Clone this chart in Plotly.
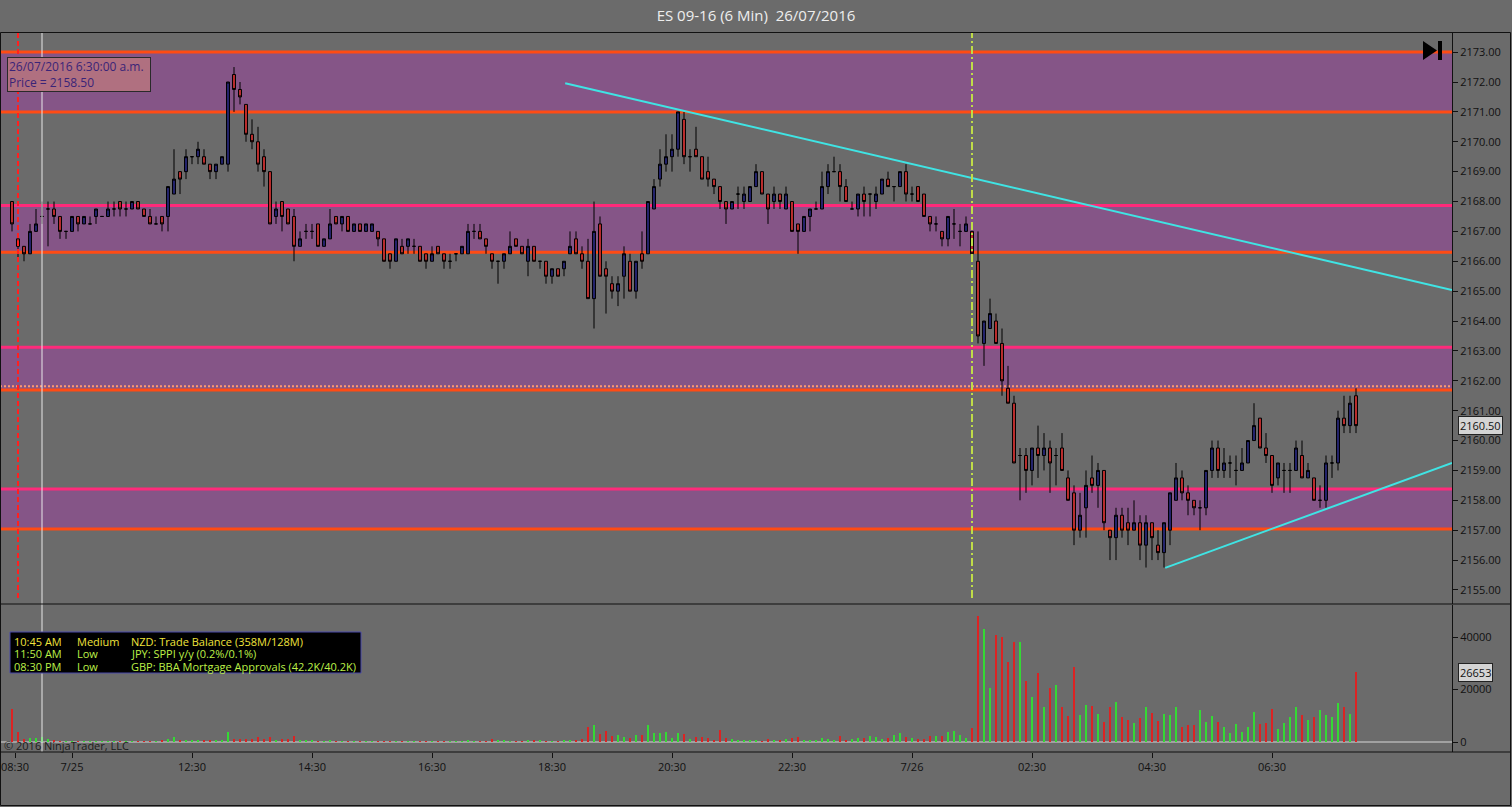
import plotly.graph_objects as go

# --- DATA ---
bar_index = list(range(225))

opens = [
    2168.0, 2166.75, 2166.5, 2166.25, 2167.0, 2167.5, 2167.75, 2167.75, 2167.5, 2167.0, 2167.0, 2167.5, 2167.25, 2167.25, 2167.5,
    2167.5, 2167.5, 2167.75, 2168.0, 2167.75, 2167.75, 2168.0, 2167.75, 2167.5, 2167.25, 2167.5, 2167.5, 2168.25, 2169.0, 2169.0,
    2169.5, 2169.5, 2169.5, 2169.25, 2169.0, 2169.25, 2169.25, 2172.25, 2171.75, 2171.25, 2170.25, 2170.0, 2169.5, 2169.0, 2167.5,
    2168.0, 2167.75, 2167.5, 2166.5, 2167.0, 2167.0, 2167.25, 2166.5, 2166.75, 2167.5, 2167.25, 2167.5, 2167.0, 2167.25, 2167.0,
    2167.0, 2167.0, 2166.75, 2166.25, 2166.0, 2166.5, 2166.5, 2166.5, 2166.5, 2166.25, 2166.0, 2166.5, 2166.25, 2166.0, 2166.25,
    2166.25, 2166.25, 2167.0, 2167.0, 2166.75, 2166.25, 2166.0, 2166.0, 2166.25, 2166.75, 2166.5, 2166.0, 2166.5, 2166.0, 2166.0,
    2165.5, 2165.75, 2165.75, 2166.25, 2166.75, 2166.25, 2166.0, 2164.75, 2167.25, 2165.75, 2165.25, 2165.0, 2165.5, 2166.0, 2165.0,
    2166.25, 2166.25, 2167.75, 2168.75, 2169.25, 2169.5, 2169.75, 2170.75, 2169.5, 2169.75, 2169.5, 2169.0, 2168.75, 2168.5, 2168.0,
    2167.75, 2168.25, 2168.0, 2168.0, 2168.5, 2169.0, 2168.25, 2168.0, 2168.25, 2167.75, 2168.0, 2167.25, 2167.0, 2167.5, 2167.75,
    2167.75, 2168.5, 2169.0, 2169.0, 2168.5, 2167.75, 2167.75, 2168.25, 2168.25, 2168.0, 2168.25, 2168.75, 2168.5, 2168.5, 2169.0,
    2168.25, 2168.5, 2168.25, 2167.5, 2167.25, 2167.0, 2166.75, 2167.25, 2167.0, 2167.0, 2167.0, 2166.0, 2163.25, 2163.75, 2164.0,
    2163.25, 2161.75, 2161.25, 2159.5, 2159.5, 2159.0, 2159.75, 2159.5, 2159.75, 2159.5, 2159.75, 2158.75, 2158.25, 2157.0, 2157.75,
    2158.75, 2158.5, 2159.0, 2157.0, 2156.75, 2157.5, 2157.25, 2157.0, 2157.25, 2156.5, 2157.25, 2156.5, 2156.25, 2157.0, 2158.0,
    2158.75, 2158.25, 2158.0, 2157.75, 2157.75, 2159.0, 2159.75, 2159.0, 2159.25, 2159.0, 2159.0, 2159.25, 2160.0, 2160.75, 2159.75,
    2159.5, 2158.75, 2159.0, 2159.0, 2159.0, 2159.5, 2158.75, 2158.75, 2158.0, 2158.0, 2159.25, 2159.25, 2160.75, 2160.5, 2161.5,
]
highs = [
    2168.0, 2166.75, 2166.5, 2167.25, 2167.75, 2168.0, 2168.0, 2168.0, 2167.5, 2167.0, 2167.5, 2167.5, 2167.5, 2167.5, 2167.75,
    2167.5, 2168.0, 2168.0, 2168.0, 2168.0, 2168.0, 2168.0, 2167.75, 2167.75, 2167.5, 2167.5, 2168.5, 2169.75, 2169.0, 2169.75,
    2169.5, 2170.0, 2169.75, 2169.25, 2169.25, 2169.5, 2172.0, 2172.5, 2172.0, 2171.25, 2170.75, 2170.5, 2169.75, 2169.0, 2168.0,
    2168.0, 2167.75, 2167.75, 2167.0, 2167.25, 2167.25, 2167.25, 2166.75, 2167.75, 2167.5, 2167.5, 2167.5, 2167.25, 2167.25, 2167.25,
    2167.25, 2167.0, 2166.75, 2166.25, 2166.75, 2166.75, 2166.75, 2166.75, 2166.5, 2166.25, 2166.5, 2166.5, 2166.25, 2166.25, 2166.25,
    2166.5, 2167.25, 2167.25, 2167.25, 2166.75, 2166.25, 2166.0, 2166.25, 2167.0, 2166.75, 2166.5, 2166.75, 2166.5, 2166.0, 2166.0,
    2165.75, 2165.75, 2166.0, 2167.0, 2167.0, 2166.5, 2166.75, 2168.0, 2167.5, 2166.0, 2165.5, 2165.5, 2166.5, 2166.25, 2166.0,
    2167.0, 2168.0, 2168.75, 2169.75, 2170.25, 2170.25, 2171.0, 2171.0, 2169.75, 2170.5, 2169.5, 2169.5, 2168.75, 2168.5, 2168.0,
    2168.0, 2168.5, 2168.5, 2168.5, 2169.25, 2169.0, 2168.25, 2168.5, 2168.25, 2168.5, 2168.0, 2167.25, 2167.5, 2167.75, 2168.0,
    2169.0, 2169.25, 2169.5, 2169.25, 2168.75, 2168.0, 2168.25, 2168.5, 2168.25, 2168.5, 2168.75, 2169.0, 2168.5, 2169.0, 2169.25,
    2168.5, 2168.5, 2168.25, 2167.5, 2167.5, 2167.0, 2167.5, 2167.75, 2167.25, 2167.5, 2167.0, 2167.0, 2164.0, 2164.75, 2164.25,
    2163.75, 2162.5, 2161.5, 2159.75, 2159.75, 2159.75, 2160.5, 2160.25, 2160.0, 2159.75, 2160.25, 2159.0, 2158.5, 2158.25, 2159.0,
    2159.5, 2159.25, 2159.0, 2157.0, 2157.75, 2157.75, 2157.75, 2158.0, 2157.5, 2157.5, 2157.25, 2157.0, 2157.25, 2158.25, 2159.25,
    2159.0, 2158.5, 2158.0, 2158.0, 2159.0, 2160.0, 2160.0, 2159.75, 2159.5, 2159.5, 2159.75, 2160.0, 2161.25, 2160.75, 2160.25,
    2159.5, 2159.25, 2159.25, 2159.25, 2160.0, 2160.0, 2159.25, 2158.75, 2158.5, 2159.5, 2159.5, 2161.0, 2161.5, 2161.5, 2161.75,
]
lows = [
    2167.0, 2166.0, 2166.0, 2166.25, 2167.0, 2167.25, 2166.5, 2167.25, 2166.75, 2166.75, 2167.0, 2167.0, 2167.25, 2167.25, 2167.25,
    2167.5, 2167.5, 2167.5, 2167.5, 2167.5, 2167.75, 2167.75, 2167.5, 2167.25, 2167.25, 2167.0, 2167.0, 2168.25, 2168.25, 2168.75,
    2169.25, 2169.25, 2169.25, 2168.75, 2168.75, 2169.25, 2169.0, 2171.0, 2171.25, 2170.0, 2169.75, 2169.0, 2168.5, 2167.25, 2167.25,
    2167.0, 2167.25, 2166.0, 2166.5, 2166.75, 2166.75, 2166.5, 2166.5, 2166.75, 2167.25, 2167.0, 2167.0, 2167.0, 2167.0, 2167.0,
    2167.0, 2166.5, 2166.0, 2165.75, 2166.0, 2166.25, 2166.25, 2166.25, 2166.0, 2165.75, 2166.0, 2166.25, 2165.75, 2165.75, 2166.0,
    2166.25, 2166.25, 2166.75, 2166.75, 2166.25, 2165.75, 2165.25, 2165.75, 2166.25, 2166.5, 2166.25, 2165.5, 2166.0, 2165.75, 2165.25,
    2165.25, 2165.5, 2165.5, 2166.25, 2166.25, 2165.75, 2164.75, 2163.75, 2165.5, 2164.25, 2164.75, 2164.5, 2164.75, 2165.0, 2164.75,
    2165.75, 2166.25, 2167.75, 2168.5, 2169.0, 2169.0, 2169.5, 2169.25, 2169.0, 2169.5, 2168.75, 2168.5, 2168.25, 2167.75, 2167.25,
    2167.75, 2167.75, 2167.75, 2168.0, 2168.5, 2168.25, 2167.25, 2167.75, 2167.75, 2167.75, 2167.0, 2166.25, 2167.0, 2167.0, 2167.75,
    2167.75, 2168.25, 2169.0, 2168.0, 2168.0, 2167.75, 2167.5, 2167.5, 2167.5, 2167.75, 2168.25, 2168.5, 2168.0, 2168.5, 2168.0,
    2168.0, 2168.0, 2167.5, 2167.0, 2167.0, 2166.5, 2166.5, 2166.75, 2166.5, 2167.0, 2166.0, 2163.25, 2162.5, 2163.75, 2163.25,
    2161.5, 2161.25, 2159.25, 2158.0, 2158.25, 2158.5, 2158.75, 2159.0, 2158.25, 2158.5, 2159.0, 2158.0, 2156.5, 2156.75, 2156.75,
    2158.25, 2157.75, 2157.0, 2156.0, 2156.0, 2156.75, 2156.5, 2157.0, 2156.0, 2155.75, 2156.0, 2156.0, 2155.75, 2156.5, 2158.0,
    2158.0, 2157.5, 2157.5, 2157.0, 2157.5, 2158.75, 2158.75, 2158.75, 2158.75, 2158.5, 2159.0, 2159.25, 2160.0, 2159.75, 2159.25,
    2158.25, 2158.5, 2158.25, 2158.25, 2159.0, 2158.75, 2158.75, 2158.0, 2157.75, 2157.75, 2158.75, 2159.0, 2160.25, 2160.25, 2160.25,
]
closes = [
    2167.25, 2166.5, 2166.25, 2167.0, 2167.25, 2167.5, 2167.75, 2167.5, 2167.0, 2167.0, 2167.5, 2167.25, 2167.5, 2167.25, 2167.75,
    2167.5, 2167.75, 2167.75, 2167.75, 2167.75, 2168.0, 2167.75, 2167.5, 2167.25, 2167.25, 2167.25, 2168.5, 2168.75, 2168.75, 2169.5,
    2169.5, 2169.75, 2169.25, 2169.0, 2169.25, 2169.5, 2172.0, 2171.75, 2171.5, 2170.25, 2170.0, 2169.25, 2169.0, 2167.25, 2167.75,
    2167.5, 2167.25, 2166.5, 2166.75, 2167.0, 2167.0, 2166.5, 2166.75, 2167.25, 2167.25, 2167.5, 2167.0, 2167.25, 2167.0, 2167.25,
    2167.25, 2166.75, 2166.0, 2166.0, 2166.75, 2166.25, 2166.75, 2166.5, 2166.0, 2166.0, 2166.25, 2166.25, 2166.0, 2166.0, 2166.25,
    2166.5, 2167.0, 2167.0, 2166.75, 2166.5, 2166.0, 2166.0, 2166.25, 2166.5, 2166.5, 2166.25, 2166.5, 2166.0, 2166.0, 2165.5,
    2165.75, 2165.5, 2166.0, 2166.5, 2166.25, 2166.0, 2164.75, 2167.0, 2165.5, 2165.5, 2165.0, 2165.25, 2166.25, 2165.0, 2166.0,
    2166.0, 2168.0, 2168.5, 2169.25, 2169.5, 2169.75, 2171.0, 2169.5, 2169.5, 2169.5, 2168.75, 2168.75, 2168.5, 2168.0, 2167.75,
    2168.0, 2168.25, 2168.25, 2168.5, 2169.0, 2168.25, 2167.75, 2168.25, 2168.0, 2168.25, 2167.0, 2167.0, 2167.5, 2167.75, 2167.75,
    2168.5, 2169.0, 2169.0, 2168.5, 2168.0, 2167.75, 2168.25, 2168.0, 2168.25, 2168.25, 2168.75, 2168.5, 2168.5, 2169.0, 2168.25,
    2168.25, 2168.0, 2167.5, 2167.25, 2167.25, 2166.75, 2167.5, 2167.25, 2167.0, 2167.25, 2166.25, 2163.5, 2164.0, 2164.25, 2163.25,
    2162.0, 2161.25, 2159.25, 2159.5, 2159.0, 2159.75, 2159.5, 2159.75, 2159.25, 2159.5, 2159.0, 2158.0, 2157.0, 2157.5, 2158.5,
    2158.5, 2159.0, 2157.25, 2156.75, 2157.5, 2157.0, 2157.0, 2157.25, 2156.5, 2157.25, 2156.75, 2156.25, 2157.25, 2158.25, 2158.75,
    2158.25, 2158.0, 2157.75, 2157.75, 2159.0, 2159.75, 2159.0, 2159.25, 2159.25, 2159.0, 2159.25, 2160.0, 2160.5, 2159.75, 2159.5,
    2158.5, 2159.25, 2159.0, 2159.0, 2159.75, 2158.75, 2159.0, 2158.0, 2158.0, 2159.25, 2159.25, 2160.75, 2160.5, 2161.25, 2160.5,
]
volumes = [
    12500, 4000, 1000, 1500, 1500, 2000, 1200, 500, 200, 150, 100, 100, 150, 100, 100,
    150, 100, 100, 150, 100, 100, 150, 200, 250, 250, 400, 1300, 2000, 400, 760,
    760, 760, 760, 500, 500, 760, 3800, 1300, 1000, 1000, 1300, 1800, 1000, 2000, 760,
    1000, 1000, 2300, 500, 500, 500, 200, 200, 500, 200, 200, 150, 200, 200, 150,
    200, 300, 300, 300, 250, 300, 300, 250, 300, 300, 150, 150, 150, 150, 150,
    150, 500, 200, 200, 200, 1000, 760, 500, 250, 250, 250, 760, 760, 760, 300,
    300, 300, 500, 500, 800, 1000, 5600, 6600, 3000, 4100, 2300, 2800, 2000, 1500, 2500,
    2800, 6600, 3300, 3600, 3800, 1500, 3600, 3000, 1000, 1800, 2000, 1500, 800, 4600, 1500,
    1000, 800, 500, 800, 400, 100, 1000, 800, 800, 1000, 1400, 2000, 800, 500, 500,
    1400, 1300, 800, 2300, 800, 1300, 1500, 1500, 2300, 1800, 1300, 1500, 2700, 3600, 2000,
    1500, 1300, 1300, 2300, 2300, 2300, 3800, 4300, 2800, 1500, 5300, 48000, 43200, 20400, 40600,
    39900, 30600, 38200, 38200, 23400, 17300, 26200, 13500, 20700, 21700, 13500, 9900, 28700, 10300, 14100,
    13700, 10700, 7500, 13500, 15400, 9700, 8400, 7100, 9000, 13500, 11200, 8000, 10700, 10300, 13500,
    5800, 6400, 6400, 12200, 7700, 9900, 7600, 5800, 3600, 6900, 3800, 5800, 11400, 6900, 7100,
    12400, 5100, 7400, 9400, 13200, 10300, 8400, 9400, 12200, 10300, 9700, 14700, 13500, 10700, 26653,
]

tick_positions = [0.5, 10, 30, 50, 70, 90, 110, 130, 150, 170, 190, 210]
tick_labels = ["08:30", "7/25", "12:30", "14:30", "16:30", "18:30", "20:30",
               "22:30", "7/26", "02:30", "04:30", "06:30"]
price_ticks = list(range(2155, 2174))
volume_ticks = [0, 20000, 40000]
volume_tick_labels = ["0", "20000", "40000"]

# supply/demand zones drawn on the chart
zone_bottoms = [2171.0, 2166.3, 2161.69, 2157.04]
zone_tops = [2173.0, 2167.87, 2163.12, 2158.38]
zone_top_colors = ["#ff4b14", "#ff2a7a", "#ff2a7a", "#ff2a7a"]
dotted_level = 2161.82

# hand drawn trend lines
trend_down_x = [92.2, 240]
trend_down_y = [2171.96, 2165.04]
trend_up_x = [192.2, 240]
trend_up_y = [2155.74, 2159.25]

session_bar = 1
cursor_bar = 5
day_break_bar = 160

crosshair_text = "26/07/2016 6:30:00 a.m.<br>Price = 2158.50"
last_price = 2160.50
last_volume = 26653

news_times = ["10:45 AM", "11:50 AM", "08:30 PM"]
news_impact = ["Medium", "Low", "Low"]
news_events = ["NZD: Trade Balance (358M/128M)", "JPY: SPPI y/y (0.2%/0.1%)",
               "GBP: BBA Mortgage Approvals (42.2K/40.2K)"]
news_colors = ["#f0e43c", "#bdf048", "#bdf048"]

assert len(opens) == len(highs) == len(lows) == len(closes) == len(volumes) == 225

# --- STYLE ---
BG = "#6b6b6b"
ZONE_FILL = "#855587"
ORANGE = "#ff4b14"
FONT = "Open Sans"
W, H = 1512, 807
M_L, M_R, M_T, M_B = 0, 60, 33, 55
PLOT_W = W - M_L - M_R
PLOT_H = H - M_T - M_B


def px(x):
    return (x - M_L) / PLOT_W


def py(y):
    return (H - M_B - y) / PLOT_H


vol_colors = ["#34d934" if c >= o else "#dc2323" for o, c in zip(opens, closes)]

fig = go.Figure()

fig.add_trace(go.Candlestick(
    x=bar_index, open=opens, high=highs, low=lows, close=closes,
    increasing=dict(fillcolor="#24246e", line=dict(color="black", width=1)),
    decreasing=dict(fillcolor="#bd2e2e", line=dict(color="black", width=1)),
    whiskerwidth=0, showlegend=False, hoverinfo="skip", yaxis="y"))

fig.add_trace(go.Bar(x=bar_index, y=volumes, marker=dict(color=vol_colors, line=dict(width=0)),
                     width=0.4, showlegend=False, hoverinfo="skip", yaxis="y2"))

for tx, ty in [(trend_down_x, trend_down_y), (trend_up_x, trend_up_y)]:
    fig.add_trace(go.Scatter(x=tx, y=ty, mode="lines", line=dict(color="#3fe4e4", width=2),
                             showlegend=False, hoverinfo="skip", yaxis="y"))

shapes = []
for lo, hi, top_col in zip(zone_bottoms, zone_tops, zone_top_colors):
    shapes.append(dict(type="rect", xref="x domain", yref="y", x0=0, x1=1, y0=lo, y1=hi,
                       fillcolor=ZONE_FILL, line=dict(width=0), layer="below"))
    shapes.append(dict(type="line", xref="x domain", yref="y", x0=0, x1=1, y0=hi, y1=hi,
                       line=dict(color=top_col, width=3), layer="below"))
    shapes.append(dict(type="line", xref="x domain", yref="y", x0=0, x1=1, y0=lo, y1=lo,
                       line=dict(color=ORANGE, width=3), layer="below"))
shapes.append(dict(type="line", xref="x domain", yref="y", x0=0, x1=1, y0=dotted_level, y1=dotted_level,
                   line=dict(color="#ff9a70", width=2, dash="2px,2px"), layer="below"))

# vertical markers
shapes.append(dict(type="line", xref="x", yref="paper", x0=session_bar, x1=session_bar,
                   y0=py(598), y1=1, line=dict(color="#ff2020", width=2, dash="5px,3px")))
shapes.append(dict(type="line", xref="x", yref="paper", x0=cursor_bar, x1=cursor_bar,
                   y0=0, y1=1, line=dict(color="#e8e8e8", width=1)))
shapes.append(dict(type="line", xref="x", yref="paper", x0=day_break_bar, x1=day_break_bar,
                   y0=py(598), y1=1, line=dict(color="#bfdc48", width=2, dash="8px,3px,2px,3px")))

# volume zero line
shapes.append(dict(type="line", xref="x domain", yref="y2", x0=0, x1=1, y0=0, y1=0,
                   line=dict(color="#d8d8d8", width=1), layer="below"))

# frame and panel separators
shapes.append(dict(type="rect", xref="paper", yref="paper", x0=px(0.5), x1=px(1510.5),
                   y0=py(805.5), y1=py(32.5), line=dict(color="#111111", width=1)))
for yy in [604, 752]:
    shapes.append(dict(type="line", xref="paper", yref="paper", x0=px(0), x1=px(1511),
                       y0=py(yy), y1=py(yy), line=dict(color="#111111", width=1)))

# news box
shapes.append(dict(type="rect", xref="paper", yref="paper", x0=px(10), x1=px(361),
                   y0=py(673), y1=py(632), fillcolor="black", line=dict(color="#4848a8", width=1)))

# "go to last bar" icon
shapes.append(dict(type="path", xref="paper", yref="paper", fillcolor="black", line=dict(width=0),
                   path="M {} {} L {} {} L {} {} Z".format(px(1423), py(41), px(1423), py(60), px(1437), py(50.5))))
shapes.append(dict(type="rect", xref="paper", yref="paper", fillcolor="black", line=dict(width=0),
                   x0=px(1438), x1=px(1442), y0=py(60), y1=py(41)))

annotations = []
annotations.append(dict(xref="paper", yref="paper", x=px(7), y=py(57), xanchor="left", yanchor="top",
                        text=crosshair_text, align="left", showarrow=False, width=140, height=31,
                        bgcolor="#b07080", bordercolor="#2a2a2a", borderwidth=1, borderpad=1,
                        font=dict(family=FONT, size=12, color="#3a2478")))

for row, (t, imp, ev, col) in enumerate(zip(news_times, news_impact, news_events, news_colors)):
    yy = py(641 + row * 12.8)
    for xx, txt in [(12, t), (75, imp), (129, ev)]:
        annotations.append(dict(xref="paper", yref="paper", x=px(xx), y=yy, xanchor="left",
                                yanchor="middle", text=txt, showarrow=False,
                                font=dict(family=FONT, size=11, color=col)))

annotations.append(dict(xref="paper", yref="paper", x=px(2), y=py(745), xanchor="left", yanchor="middle",
                        text="© 2016 NinjaTrader, LLC", showarrow=False,
                        font=dict(family=FONT, size=11, color="#1c1c1c")))

annotations.append(dict(xref="paper", yref="y", x=1, y=last_price, xanchor="left", yanchor="middle",
                        xshift=6, text="{:.2f}".format(last_price), showarrow=False,
                        bgcolor="#d4d4d4", bordercolor="#222222", borderwidth=1, borderpad=1,
                        font=dict(family=FONT, size=11, color="#111111")))
annotations.append(dict(xref="paper", yref="y2", x=1, y=last_volume, xanchor="left", yanchor="middle",
                        xshift=6, text="{}".format(last_volume), showarrow=False,
                        bgcolor="#d4d4d4", bordercolor="#222222", borderwidth=1, borderpad=1,
                        font=dict(family=FONT, size=11, color="#111111")))

fig.update_layout(
    width=W, height=H,
    margin=dict(l=M_L, r=M_R, t=M_T, b=M_B, pad=0),
    paper_bgcolor=BG, plot_bgcolor=BG,
    title=dict(text="ES 09-16 (6 Min)\u00a0 26/07/2016", x=0.5, xref="container", xanchor="center",
               y=1 - 16 / H, yref="container", yanchor="middle",
               font=dict(family=FONT, size=15, color="#eeeeee")),
    xaxis=dict(range=[-2, 240], domain=[0, 1], anchor="y2", showgrid=False, zeroline=False,
               tickmode="array", tickvals=tick_positions, ticktext=tick_labels,
               ticks="outside", ticklen=5, tickcolor="#111111",
               tickfont=dict(family=FONT, size=11, color="#111111"),
               rangeslider=dict(visible=False), showline=False),
    yaxis=dict(domain=[py(604), 1], range=[2154.53, 2173.64], side="right", showgrid=False,
               zeroline=False, tickmode="array", tickvals=price_ticks,
               ticktext=["{:.2f}".format(v) for v in price_ticks],
               ticks="outside", ticklen=5, tickcolor="#111111",
               tickfont=dict(family=FONT, size=11, color="#111111"),
               showline=True, linecolor="#111111", linewidth=1),
    yaxis2=dict(domain=[0, py(605)], range=[-3810, 52200], side="right", showgrid=False,
                zeroline=False, tickmode="array", tickvals=volume_ticks, ticktext=volume_tick_labels,
                ticks="outside", ticklen=5, tickcolor="#111111",
                tickfont=dict(family=FONT, size=11, color="#111111"),
                showline=True, linecolor="#111111", linewidth=1),
    shapes=shapes, annotations=annotations,
    bargap=0, hovermode=False,
)

# page body has an 8px default margin; drop it so the chart fills the window exactly
fig.write_html("out.html", config={"displayModeBar": False},
               post_script="document.body.style.margin='0px';")
